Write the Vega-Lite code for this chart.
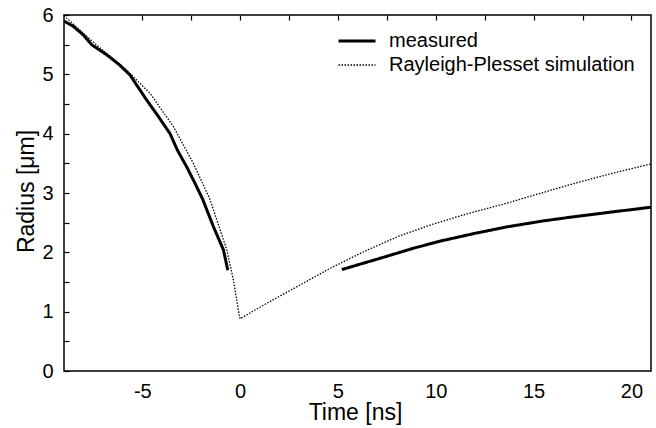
{
  "$schema": "https://vega.github.io/schema/vega-lite/v6.json",
  "width": 587,
  "height": 356,
  "autosize": {"type": "none"},
  "padding": {"left": 64, "top": 15, "right": 5, "bottom": 57},
  "background": "white",
  "config": {
    "font": "Liberation Sans",
    "view": {"stroke": "black", "strokeWidth": 1.5},
    "axis": {
      "domain": false,
      "ticks": false,
      "grid": true,
      "gridColor": "#000000",
      "gridOpacity": 1,
      "gridWidth": 1.2,
      "gridDash": [5, 2000],
      "labelColor": "black",
      "labelFontSize": 20,
      "titleColor": "black",
      "titleFontSize": 23,
      "titleFontWeight": "normal"
    }
  },
  "data": {
    "values": [
      {"series": "measured", "seg": "m1", "t": -9.0, "r": 5.90},
      {"series": "measured", "seg": "m1", "t": -8.53, "r": 5.81},
      {"series": "measured", "seg": "m1", "t": -8.0, "r": 5.66},
      {"series": "measured", "seg": "m1", "t": -7.59, "r": 5.50},
      {"series": "measured", "seg": "m1", "t": -6.82, "r": 5.33},
      {"series": "measured", "seg": "m1", "t": -6.2, "r": 5.17},
      {"series": "measured", "seg": "m1", "t": -5.63, "r": 4.99},
      {"series": "measured", "seg": "m1", "t": -4.78, "r": 4.57},
      {"series": "measured", "seg": "m1", "t": -4.2, "r": 4.30},
      {"series": "measured", "seg": "m1", "t": -3.58, "r": 4.00},
      {"series": "measured", "seg": "m1", "t": -3.2, "r": 3.72},
      {"series": "measured", "seg": "m1", "t": -2.73, "r": 3.44},
      {"series": "measured", "seg": "m1", "t": -2.3, "r": 3.16},
      {"series": "measured", "seg": "m1", "t": -1.92, "r": 2.90},
      {"series": "measured", "seg": "m1", "t": -1.36, "r": 2.43},
      {"series": "measured", "seg": "m1", "t": -0.85, "r": 2.04},
      {"series": "measured", "seg": "m1", "t": -0.63, "r": 1.70},
      {"series": "measured", "seg": "m2", "t": 5.2, "r": 1.71},
      {"series": "measured", "seg": "m2", "t": 7.16, "r": 1.90},
      {"series": "measured", "seg": "m2", "t": 8.87, "r": 2.07},
      {"series": "measured", "seg": "m2", "t": 10.24, "r": 2.19},
      {"series": "measured", "seg": "m2", "t": 12.0, "r": 2.32},
      {"series": "measured", "seg": "m2", "t": 13.65, "r": 2.43},
      {"series": "measured", "seg": "m2", "t": 15.5, "r": 2.53},
      {"series": "measured", "seg": "m2", "t": 17.06, "r": 2.60},
      {"series": "measured", "seg": "m2", "t": 19.0, "r": 2.68},
      {"series": "measured", "seg": "m2", "t": 21.0, "r": 2.76},
      {"series": "Rayleigh-Plesset simulation", "seg": "s", "t": -9.0, "r": 5.99},
      {"series": "Rayleigh-Plesset simulation", "seg": "s", "t": -7.5, "r": 5.54},
      {"series": "Rayleigh-Plesset simulation", "seg": "s", "t": -5.8, "r": 5.07},
      {"series": "Rayleigh-Plesset simulation", "seg": "s", "t": -4.6, "r": 4.68},
      {"series": "Rayleigh-Plesset simulation", "seg": "s", "t": -3.41, "r": 4.12},
      {"series": "Rayleigh-Plesset simulation", "seg": "s", "t": -2.39, "r": 3.50},
      {"series": "Rayleigh-Plesset simulation", "seg": "s", "t": -1.55, "r": 2.90},
      {"series": "Rayleigh-Plesset simulation", "seg": "s", "t": -1.02, "r": 2.38},
      {"series": "Rayleigh-Plesset simulation", "seg": "s", "t": -0.68, "r": 2.04},
      {"series": "Rayleigh-Plesset simulation", "seg": "s", "t": -0.34, "r": 1.53},
      {"series": "Rayleigh-Plesset simulation", "seg": "s", "t": -0.15, "r": 1.15},
      {"series": "Rayleigh-Plesset simulation", "seg": "s", "t": -0.05, "r": 0.95},
      {"series": "Rayleigh-Plesset simulation", "seg": "s", "t": 0.0, "r": 0.88},
      {"series": "Rayleigh-Plesset simulation", "seg": "s", "t": 1.19, "r": 1.11},
      {"series": "Rayleigh-Plesset simulation", "seg": "s", "t": 2.9, "r": 1.42},
      {"series": "Rayleigh-Plesset simulation", "seg": "s", "t": 4.6, "r": 1.73},
      {"series": "Rayleigh-Plesset simulation", "seg": "s", "t": 6.31, "r": 2.01},
      {"series": "Rayleigh-Plesset simulation", "seg": "s", "t": 8.02, "r": 2.26},
      {"series": "Rayleigh-Plesset simulation", "seg": "s", "t": 9.72, "r": 2.46},
      {"series": "Rayleigh-Plesset simulation", "seg": "s", "t": 11.5, "r": 2.64},
      {"series": "Rayleigh-Plesset simulation", "seg": "s", "t": 13.65, "r": 2.83},
      {"series": "Rayleigh-Plesset simulation", "seg": "s", "t": 15.4, "r": 3.0},
      {"series": "Rayleigh-Plesset simulation", "seg": "s", "t": 17.06, "r": 3.16},
      {"series": "Rayleigh-Plesset simulation", "seg": "s", "t": 19.0, "r": 3.33},
      {"series": "Rayleigh-Plesset simulation", "seg": "s", "t": 21.0, "r": 3.49}
    ]
  },
  "resolve": {"axis": {"x": "independent", "y": "independent"}},
  "layer": [
    {
      "mark": {"type": "line", "color": "black", "clip": true},
      "encoding": {
        "x": {
          "field": "t", "type": "quantitative",
          "scale": {"domain": [-9, 21], "nice": false, "zero": false},
          "axis": {
            "orient": "bottom",
            "title": "Time [ns]",
            "values": [-5, -2.5, 0, 2.5, 5, 7.5, 10, 12.5, 15, 17.5, 20],
            "labelExpr": "datum.value % 5 === 0 ? toString(datum.value) : ''",
            "labelPadding": 10,
            "titleBaseline": "alphabetic",
            "titleY": 48,
            "titleX": 291
          }
        },
        "y": {
          "field": "r", "type": "quantitative",
          "scale": {"domain": [0, 6], "nice": false},
          "axis": {
            "orient": "left",
            "title": "Radius [μm]",
            "values": [0, 0.5, 1, 1.5, 2, 2.5, 3, 3.5, 4, 4.5, 5, 5.5, 6],
            "labelExpr": "datum.value % 1 === 0 ? toString(datum.value) : ''",
            "labelPadding": 11,
            "titleBaseline": "alphabetic",
            "titleX": -31,
            "titleY": 176
          }
        },
        "detail": {"field": "seg"},
        "strokeDash": {
          "field": "series", "type": "nominal",
          "scale": {"domain": ["measured", "Rayleigh-Plesset simulation"], "range": [[1, 0], [1.5, 1.5]]},
          "legend": {
            "title": null,
            "orient": "none",
            "legendX": 273,
            "legendY": 16,
            "symbolType": "stroke",
            "symbolSize": 1369,
            "clipHeight": 20,
            "symbolStrokeColor": "black",
            "labelFontSize": 20,
            "labelColor": "black",
            "labelLimit": 0,
            "labelOffset": 12,
            "rowPadding": 4,
            "padding": 0
          }
        },
        "strokeWidth": {
          "field": "series", "type": "nominal",
          "scale": {"domain": ["measured", "Rayleigh-Plesset simulation"], "range": [3, 1.3]},
          "legend": null
        }
      }
    },
    {
      "mark": {"type": "line", "strokeOpacity": 0},
      "encoding": {
        "x": {
          "field": "t", "type": "quantitative",
          "axis": {
            "orient": "top", "title": null, "labels": false,
            "values": [-5, -2.5, 0, 2.5, 5, 7.5, 10, 12.5, 15, 17.5, 20]
          }
        },
        "y": {
          "field": "r", "type": "quantitative",
          "axis": {
            "orient": "right", "title": null, "labels": false,
            "values": [0, 0.5, 1, 1.5, 2, 2.5, 3, 3.5, 4, 4.5, 5, 5.5, 6]
          }
        },
        "detail": {"field": "seg"}
      }
    }
  ]
}
